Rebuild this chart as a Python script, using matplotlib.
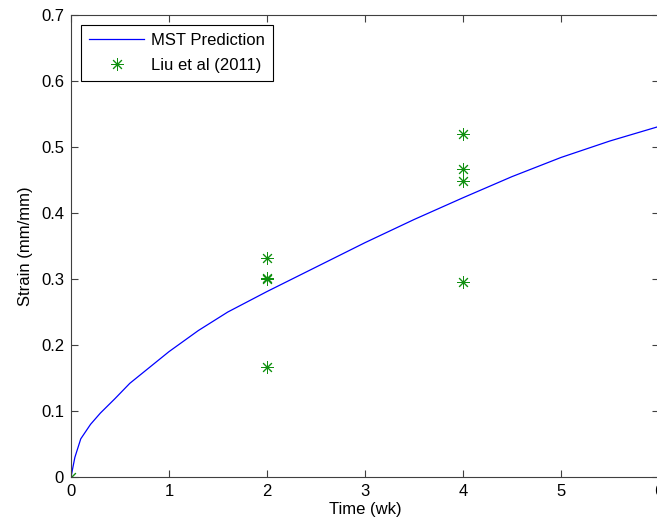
import matplotlib
matplotlib.use("Agg")
import matplotlib.pyplot as plt

plt.rcParams["font.family"] = ["Liberation Sans", "DejaVu Sans"]

# MST model prediction (strain vs time)
time_wk = [0, 0.04, 0.1, 0.2, 0.3, 0.45, 0.6, 0.8, 1.0, 1.3, 1.6, 2.0,
           2.5, 3.0, 3.5, 4.0, 4.5, 5.0, 5.5, 6.0]
strain_mst = [0, 0.030, 0.058, 0.080, 0.097, 0.119, 0.142, 0.166, 0.190,
              0.222, 0.250, 0.281, 0.318, 0.355, 0.390, 0.423, 0.455,
              0.484, 0.509, 0.531]

# Liu et al (2011) measurements
liu_time = [0, 2, 2, 2, 2, 4, 4, 4, 4]
liu_strain = [0, 0.332, 0.302, 0.300, 0.167, 0.519, 0.466, 0.449, 0.295]

fig = plt.figure(figsize=(6.57, 5.29), dpi=100)
ax = fig.add_axes([0.108, 0.098, 0.895, 0.874])

ax.plot(time_wk, strain_mst, color="#0000ff", linewidth=0.9, label="MST Prediction")
ax.plot(liu_time, liu_strain, linestyle="none", marker=(8, 2, 0), markersize=9,
        markeredgewidth=0.7, color="#109010", label="Liu et al (2011)")

ax.set_xlim(0, 6)
ax.set_ylim(0, 0.7)
ax.set_xticks(range(0, 7))
ax.set_yticks([0, 0.1, 0.2, 0.3, 0.4, 0.5, 0.6, 0.7])
ax.set_yticklabels(["0", "0.1", "0.2", "0.3", "0.4", "0.5", "0.6", "0.7"])
ax.tick_params(direction="in", length=5, width=0.8, top=True, right=True,
               labelsize=12, color="#404040", pad=5)
for s in ax.spines.values():
    s.set_color("#404040")
    s.set_linewidth(0.8)

ax.set_xlabel("Time (wk)", fontsize=12, labelpad=2)
ax.set_ylabel("Strain (mm/mm)", fontsize=12, labelpad=6)

leg = ax.legend(loc="upper left", fontsize=12, fancybox=False, framealpha=1,
                edgecolor="black", borderaxespad=0.6, handlelength=3.3,
                handletextpad=0.4, borderpad=0.5, labelspacing=0.6)
leg.get_frame().set_linewidth(0.8)

fig.savefig("out.png", dpi=100)
